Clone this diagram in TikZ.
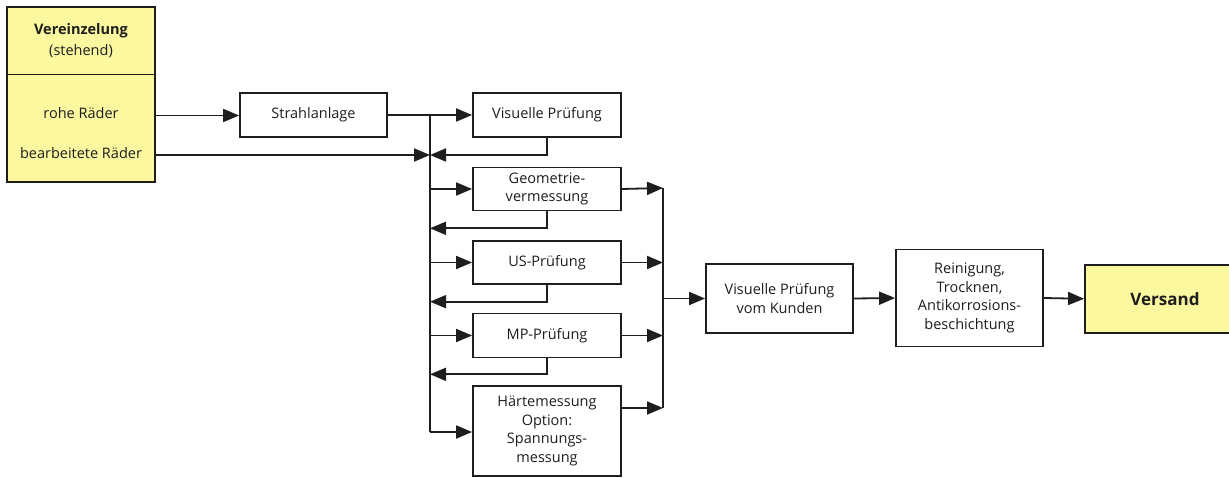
\documentclass[tikz,border=0pt]{standalone}
\usepackage{fontspec}
\setmainfont{Open Sans}
\usetikzlibrary{arrows.meta}
\definecolor{boxyellow}{RGB}{252,248,160}
\definecolor{linegray}{RGB}{30,30,30}
\tikzset{
  every node/.style={font=\fontsize{14.5}{18.5}\selectfont, text=linegray},
  box/.style={draw=linegray, line width=1.8pt, rectangle, align=center, inner sep=2pt},
  ybox/.style={box, fill=boxyellow},
  conn/.style={draw=linegray, line width=1.8pt},
  arr/.style={conn, -{Triangle[length=16pt,width=13pt]}},
}
\begin{document}
\begin{tikzpicture}[x=1pt,y=-1pt]
\useasboundingbox (0,0) rectangle (1229,478);
% left source box
\node[ybox, minimum width=148pt, minimum height=175pt] (src) at (81,94.5) {};
\draw[conn] (7,74.5) -- (155,74.5);
\node[font=\fontsize{14.5}{18.5}\selectfont\bfseries] (ver) at (81,31) {Vereinzelung};
\node (steh) at (81,51) {(stehend)};
\node (roh) at (81,113) {rohe Räder};
\node (bear) at (81,153) {bearbeitete Räder};
% process boxes
\node[box, minimum width=147pt, minimum height=44pt] (strahl) at (313.5,115) {Strahlanlage};
\node[box, minimum width=148pt, minimum height=44pt] (vis) at (547,115) {Visuelle Prüfung};
\node[box, minimum width=148pt, minimum height=43pt] (geo) at (547,189) {Geometrie-\\vermessung};
\node[box, minimum width=148pt, minimum height=43pt] (us) at (547,262.5) {US-Prüfung};
\node[box, minimum width=148pt, minimum height=44pt] (mp) at (547,335.5) {MP-Prüfung};
\node[box, minimum width=148pt, minimum height=90pt] (haerte) at (547,431) {Härtemessung\\Option:\\Spannungs-\\messung};
\node[box, minimum width=147pt, minimum height=69pt] (kunde) at (779.5,298.5) {Visuelle Prüfung\\vom Kunden};
\node[box, minimum width=147pt, minimum height=97pt] (rein) at (969.5,298) {Reinigung,\\Trocknen,\\Antikorrosions-\\beschichtung};
\node[ybox, minimum width=160pt, minimum height=68pt, font=\fontsize{17}{20}\selectfont\bfseries] (versand) at (1165,298.8) {Versand};
% trunk and collector coordinates
\coordinate (ttop) at (430,115);
\coordinate (tbot) at (430,432);
\coordinate (tin) at (430,155);
\coordinate (ctop) at (663,188);
\coordinate (cbot) at (663,408);
\coordinate (cmid) at (663,298.5);
% connectors
\draw[arr] (roh -| src.east) ++(0,2.5) -- (strahl.west |- 0,115.5);
\draw[arr] (strahl.east) -- (vis.west);
\draw[conn] (ttop) -- (tbot);
\draw[arr] (bear -| src.east) ++(0,2) -- (tin);
\draw[arr] (vis.south) |- (tin);
\draw[arr] (430,189) -- (geo.west);
\draw[arr] (430,262.5) -- (us.west);
\draw[arr] (430,335.5) -- (mp.west);
\draw[arr] (tbot) -- (haerte.west |- tbot);
\draw[arr] (geo.south) |- (430,228.3);
\draw[arr] (us.south) |- (430,301.7);
\draw[arr] (mp.south) |- (430,374.3);
\draw[arr] (geo.east) -- (ctop);
\draw[arr] (us.east) -- (663,262.5);
\draw[arr] (mp.east) -- (663,335.5);
\draw[arr] (haerte.east |- cbot) -- (cbot);
\draw[conn] (ctop) -- (cbot);
\draw[arr] (cmid) -- (kunde.west);
\draw[arr] (kunde.east) -- (rein.west);
\draw[arr] (rein.east) -- (versand.west);
\end{tikzpicture}
\end{document}
